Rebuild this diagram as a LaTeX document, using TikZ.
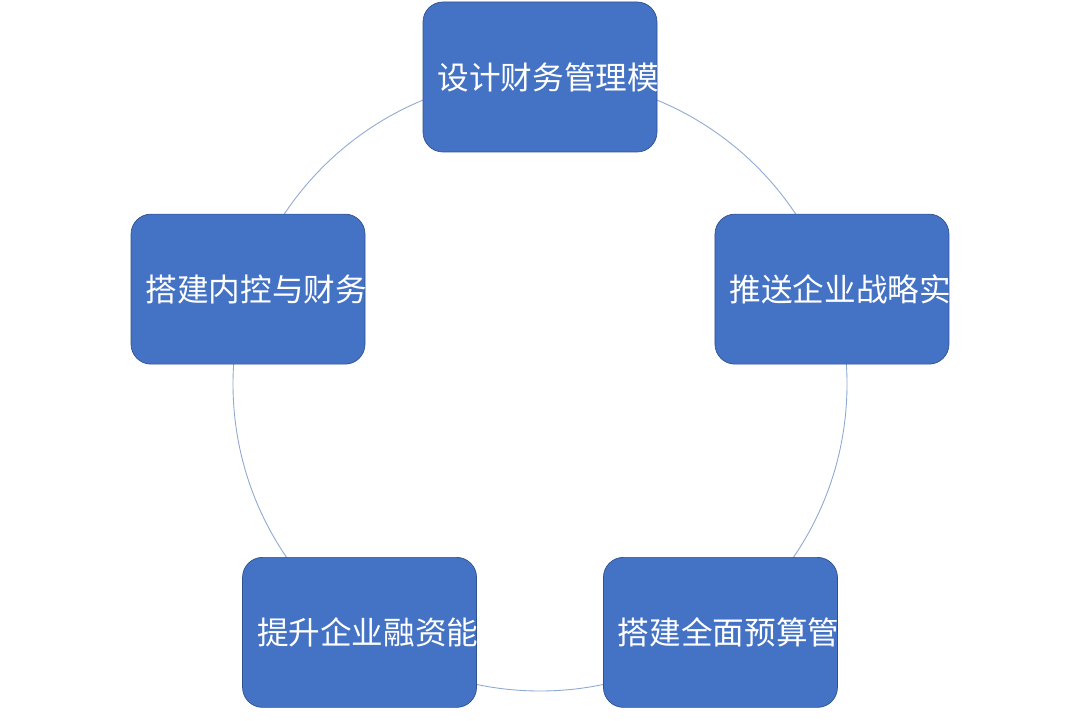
\documentclass[tikz,border=0pt]{standalone}
\usepackage{fontspec}
\usetikzlibrary{calc}
\newfontfamily\cjk{Noto Sans CJK SC}
\definecolor{boxblue}{HTML}{4472C4}
\definecolor{boxedge}{HTML}{2F528F}
\definecolor{ringline}{HTML}{8FA8D0}
\tikzset{
    stepbox/.style={draw=boxedge, fill=boxblue, rounded corners=0.4cm, minimum width=4.68cm,
        minimum height=3cm, text width=4.1cm, align=center, text=white,
        font=\cjk\fontsize{18}{28}\selectfont}
}
\begin{document}
\begin{tikzpicture}
    \useasboundingbox (0, 0) rectangle (21.6, 14.4);
    \coordinate (c) at (10.8, 6.72);
    \draw[ringline, line width=0.5pt] (c) circle (6.14);

    %%the five boxes
    \node[stepbox] (design) at ($(c)+(90:6.14)$) {设计财务管理模式};
    \node[stepbox] (strategy) at ($(c)+(18:6.14)$) {推送企业战略实现};
    \node[stepbox] (budget) at ($(c)+(-54:6.14)$) {搭建全面预算管理体系};
    \node[stepbox] (finance) at ($(c)+(234:6.14)$) {提升企业融资能力};
    \node[stepbox] (control) at ($(c)+(162:6.14)$) {搭建内控与财务共享体系};
\end{tikzpicture}
\end{document}
